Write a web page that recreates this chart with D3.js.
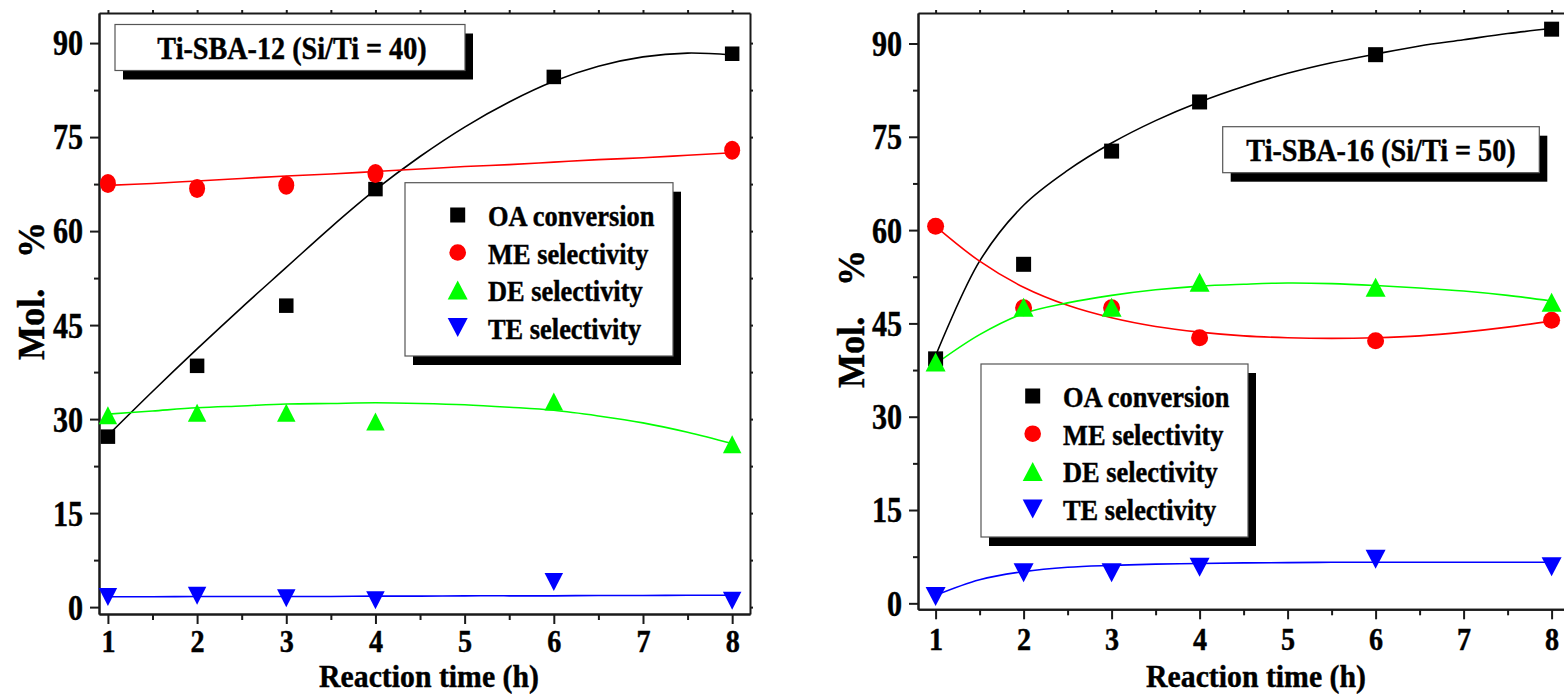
<!DOCTYPE html>
<html>
<head>
<meta charset="utf-8">
<script src="https://cdn.jsdelivr.net/npm/d3@7"></script>
<style>
  html, body { margin: 0; padding: 0; background: #fff; }
  svg { display: block; }
  text { font-family: "Liberation Serif", "Times New Roman", serif; font-weight: bold; fill: #000; stroke: #000; stroke-width: 0.45px; }
</style>
</head>
<body>
<script>
// Reaction time samples (h)
const times = [1, 2, 3, 4, 6, 8];

// Ti-SBA-12 (Si/Ti = 40), mol %
const sba12_OA = [27.2, 38.5, 48.1, 66.7, 84.6, 88.3];
const sba12_ME = [67.6, 66.8, 67.3, 69.2, null, 72.9];
const sba12_DE = [30.6, 31.0, 31.0, 29.6, 32.8, 26.0];
const sba12_TE = [1.6, 1.8, 1.4, 1.1, 4.0, 1.0];

// Ti-SBA-16 (Si/Ti = 50), mol %
const sba16_OA = [39.3, 54.5, 72.7, 80.6, 88.2, 92.3];
const sba16_ME = [60.6, 47.5, 47.5, 42.7, 42.2, 45.5];
const sba16_DE = [38.8, 47.6, 47.6, 51.6, 50.8, 48.4];
const sba16_TE = [1.1, 4.9, 4.9, 5.8, 7.1, 5.9];

// Fitted trend curves, sampled every half hour
const fitTimes = [1, 1.5, 2, 2.5, 3, 3.5, 4, 4.5, 5, 5.5, 6, 6.5, 7, 7.5, 8];
const sba12_OA_fit = [27.4, 34.4, 41.2, 47.8, 54.2, 60.6, 66.6, 71.9, 76.6, 80.6, 83.9, 86.3, 87.8, 88.4, 88.1];
const sba12_ME_fit = [67.3, 67.6, 68.0, 68.4, 68.8, 69.1, 69.5, 69.9, 70.3, 70.6, 71.0, 71.4, 71.7, 72.1, 72.5];
const sba12_DE_fit = [30.8, 31.3, 31.8, 32.1, 32.4, 32.5, 32.6, 32.5, 32.3, 31.9, 31.4, 30.5, 29.4, 27.9, 26.1];
const sba12_TE_fit = [1.65, 1.65, 1.7, 1.7, 1.7, 1.7, 1.75, 1.75, 1.8, 1.8, 1.8, 1.85, 1.85, 1.9, 1.9];

const sba16_OA_fit = [39.8, 55.0, 64.0, 69.6, 74.0, 77.6, 80.6, 83.1, 85.2, 86.9, 88.3, 89.6, 90.6, 91.6, 92.4];
const sba16_ME_fit = [60.6, 55.0, 50.8, 47.9, 45.9, 44.5, 43.6, 43.0, 42.7, 42.6, 42.7, 43.0, 43.6, 44.4, 45.4];
const sba16_DE_fit = [38.5, 43.2, 46.6, 48.3, 49.5, 50.4, 51.0, 51.3, 51.5, 51.4, 51.1, 50.7, 50.2, 49.5, 48.6];
const sba16_TE_fit = [1.3, 3.8, 5.1, 5.8, 6.1, 6.3, 6.4, 6.5, 6.55, 6.6, 6.6, 6.6, 6.6, 6.6, 6.6];

// Axis ticks and labels
const xTicks = [1, 2, 3, 4, 5, 6, 7, 8];
const xMinorTicks = [1.5, 2.5, 3.5, 4.5, 5.5, 6.5, 7.5];
const yTicks = [0, 15, 30, 45, 60, 75, 90];
const yMinorTicks = [7.5, 22.5, 37.5, 52.5, 67.5, 82.5];
const seriesNames = ["OA conversion", "ME selectivity", "DE selectivity", "TE selectivity"];
const seriesColors = ["#000000", "#ff0000", "#00ff00", "#0000ff"];
const seriesShapes = ["square", "circle", "up", "down"];
const xTitle = "Reaction time (h)";
const yTitleWord = "Mol.";
const yTitleUnit = "%";

const W = 1564, H = 694;
const svg = d3.select("body").append("svg").attr("width", W).attr("height", H);

// Times-style bold text in the figure is slightly condensed
function squeeze(sel, k = 0.88) {
  sel.each(function () {
    const L = this.getComputedTextLength();
    this.setAttribute("textLength", L * k);
    this.setAttribute("lengthAdjust", "spacingAndGlyphs");
  });
}

function marker(g, shape, color, cx, cy, opt) {
  if (shape === "square") {
    const s = opt.sq;
    g.append("rect").attr("x", cx - s / 2).attr("y", cy - s / 2).attr("width", s).attr("height", s).attr("fill", color);
  } else if (shape === "circle") {
    g.append("ellipse").attr("cx", cx).attr("cy", cy).attr("rx", opt.rx).attr("ry", opt.ry).attr("fill", color);
  } else {
    const w = opt.tw, h = opt.th, d = shape === "up" ? 1 : -1;
    g.append("path")
      .attr("d", `M${cx},${cy - d * h / 2}L${cx - w / 2},${cy + d * h / 2}L${cx + w / 2},${cy + d * h / 2}Z`)
      .attr("fill", color);
  }
}

function drawPanel(p) {
  const x = d3.scaleLinear().domain(p.xDomain).range(p.xRange);
  const y = d3.scaleLinear().domain(p.yDomain).range(p.yRange);
  const g = svg.append("g");
  const axisColor = "#1a1a1a";

  // Frame axes: major and minor ticks on all four sides
  const [x0, x1] = p.xRange, [y0, y1] = p.yRange;
  const addAxis = (axis, transform, labels) => {
    const a = g.append("g").attr("transform", transform).call(axis);
    a.select(".domain").attr("stroke", axisColor).attr("stroke-width", 2);
    a.selectAll(".tick line").attr("stroke", axisColor).attr("stroke-width", 2);
    if (!labels) a.selectAll(".tick text").remove();
    return a;
  };
  const bottom = addAxis(d3.axisBottom(x).tickValues(xTicks).tickSize(10).tickSizeOuter(0).tickPadding(p.xPad), `translate(0,${y0})`, true);
  addAxis(d3.axisBottom(x).tickValues(xMinorTicks).tickSize(6).tickSizeOuter(0).tickFormat(""), `translate(0,${y0})`, false);
  const left = addAxis(d3.axisLeft(y).tickValues(yTicks).tickSize(9).tickSizeOuter(0).tickPadding(7), `translate(${x0},0)`, true);
  addAxis(d3.axisLeft(y).tickValues(yMinorTicks).tickSize(5).tickSizeOuter(0).tickFormat(""), `translate(${x0},0)`, false);
  addAxis(d3.axisTop(x).tickValues(xTicks.concat(xMinorTicks)).tickSize(3).tickSizeOuter(0).tickFormat(""), `translate(0,${y1})`, false);
  addAxis(d3.axisRight(y).tickValues(yTicks.concat(yMinorTicks)).tickSize(3).tickSizeOuter(0).tickFormat(""), `translate(${x1},0)`, false);

  bottom.selectAll(".tick text").attr("font-size", 32).attr("font-family", null).attr("fill", "#000").call(squeeze);
  left.selectAll(".tick text").attr("font-size", 35).attr("font-family", null).attr("fill", "#000").attr("dy", "0.34em").call(squeeze, 0.86);

  // Axis titles
  g.append("text").attr("x", p.xTitleX).attr("y", p.xTitleY).attr("text-anchor", "middle")
    .attr("font-size", 32).text(xTitle).call(squeeze, 0.93);
  const yt = g.append("g").attr("transform", `translate(${p.yTitleX},${p.yTitleY}) rotate(-90)`);
  yt.append("text").attr("x", -68).attr("y", 0).attr("font-size", 38).text(yTitleWord).call(squeeze, 0.95);
  yt.append("text").attr("x", 34).attr("y", 0).attr("font-size", 38).text(yTitleUnit).call(squeeze, 0.95);

  // Fitted curves
  const line = d3.line().x(d => x(d[0])).y(d => y(d[1])).curve(d3.curveCatmullRom);
  p.fits.forEach((f, i) => {
    g.append("path").datum(fitTimes.map((t, j) => [t, f[j]]))
      .attr("d", line).attr("fill", "none").attr("stroke", seriesColors[i]).attr("stroke-width", 1.6);
  });

  // Measured points
  p.series.forEach((s, i) => {
    s.forEach((v, j) => {
      if (v == null) return;
      marker(g, seriesShapes[i], seriesColors[i], x(times[j]), y(v), p.mk);
    });
  });

  // Title box with drop shadow
  const tb = p.titleBox;
  g.append("rect").attr("x", tb.x + 8).attr("y", tb.y + 9).attr("width", tb.w).attr("height", tb.h).attr("fill", "#000");
  g.append("rect").attr("x", tb.x).attr("y", tb.y).attr("width", tb.w).attr("height", tb.h)
    .attr("fill", "#fff").attr("stroke", "#555").attr("stroke-width", 1.2);
  g.append("text").attr("x", tb.x + tb.w / 2 + tb.dx).attr("y", tb.baseline).attr("text-anchor", "middle")
    .attr("font-size", 32).text(p.title).call(squeeze);

  // Legend with drop shadow
  const lb = p.legendBox;
  g.append("rect").attr("x", lb.x + 8).attr("y", lb.y + 9).attr("width", lb.w).attr("height", lb.h).attr("fill", "#000");
  g.append("rect").attr("x", lb.x).attr("y", lb.y).attr("width", lb.w).attr("height", lb.h)
    .attr("fill", "#fff").attr("stroke", "#555").attr("stroke-width", 1.2);
  seriesNames.forEach((name, i) => {
    const by = lb.baseline0 + i * lb.step;
    marker(g, seriesShapes[i], seriesColors[i], lb.symX, by - 11, { sq: 15, rx: 8.3, ry: 8.3, tw: 20, th: 19 });
    g.append("text").attr("x", lb.textX).attr("y", by).attr("font-size", 30).text(name).call(squeeze);
  });
}

drawPanel({
  xDomain: [0.9, 8.2], xRange: [99, 750],
  yDomain: [-1.1, 94.8], yRange: [614, 13],
  xPad: 5,
  xTitleX: 429, xTitleY: 687,
  yTitleX: 44, yTitleY: 292,
  fits: [sba12_OA_fit, sba12_ME_fit, sba12_DE_fit, sba12_TE_fit],
  series: [sba12_OA, sba12_ME, sba12_DE, sba12_TE],
  mk: { sq: 14.5, rx: 8, ry: 9.5, tw: 18.5, th: 18 },
  title: "Ti-SBA-12 (Si/Ti = 40)",
  titleBox: { x: 115, y: 24.5, w: 350, h: 46, baseline: 59, dx: 2 },
  legendBox: { x: 405, y: 182.7, w: 268, h: 173.3, symX: 457.7, textX: 488, baseline0: 226, step: 37.5 }
});

drawPanel({
  xDomain: [0.8, 8.2], xRange: [918, 1569.2],
  yDomain: [-0.96, 94.9], yRange: [609.3, 13],
  xPad: 8,
  xTitleX: 1256, xTitleY: 687,
  yTitleX: 864, yTitleY: 320,
  fits: [sba16_OA_fit, sba16_ME_fit, sba16_DE_fit, sba16_TE_fit],
  series: [sba16_OA, sba16_ME, sba16_DE, sba16_TE],
  mk: { sq: 15, rx: 8.5, ry: 8.5, tw: 20, th: 19 },
  title: "Ti-SBA-16 (Si/Ti = 50)",
  titleBox: { x: 1222.7, y: 126.7, w: 316.6, h: 46, baseline: 161, dx: 0 },
  legendBox: { x: 981, y: 364, w: 267, h: 173, symX: 1032.7, textX: 1063, baseline0: 407, step: 37.7 }
});
</script>
</body>
</html>
